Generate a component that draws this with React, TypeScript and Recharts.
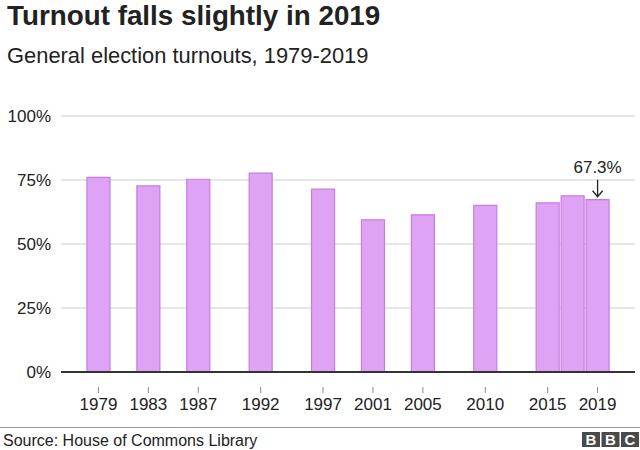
import React from "react";
import { BarChart, Bar, XAxis, YAxis, CartesianGrid } from "recharts";

const years = [1979, 1983, 1987, 1992, 1997, 2001, 2005, 2010, 2015, 2017, 2019];
const turnout = [76.0, 72.7, 75.3, 77.7, 71.4, 59.4, 61.4, 65.1, 66.1, 68.8, 67.3];
const xTicks = [1979, 1983, 1987, 1992, 1997, 2001, 2005, 2010, 2015, 2019];
const yTicks = [0, 25, 50, 75, 100];
const annotatedYear = 2019;

const title = "Turnout falls slightly in 2019";
const subtitle = "General election turnouts, 1979-2019";
const source = "Source: House of Commons Library";

const data = years.map((y, i) => ({ year: y, value: turnout[i] }));

const FONT = "'Liberation Sans', Arial, Helvetica, sans-serif";

const XTick = (props: any) => {
  const { x, y, payload } = props;
  return (
    <g>
      <line x1={x} x2={x} y1={y + 15} y2={y + 21} stroke="#888" strokeWidth={1} />
      <text x={x} y={y + 38} textAnchor="middle" fontSize={17} fill="#222" fontFamily={FONT}>
        {payload.value}
      </text>
    </g>
  );
};

const AnnotationLabel = (props: any) => {
  const { x, y, width, index } = props;
  if (data[index] == null || data[index].year !== annotatedYear) return null;
  const cx = x + width / 2;
  return (
    <g>
      <text x={cx} y={y - 27} textAnchor="middle" fontSize={17} fill="#222" fontFamily={FONT}>
        {`${data[index].value}%`}
      </text>
      <line x1={cx} x2={cx} y1={y - 20} y2={y - 3} stroke="#222" strokeWidth={1.3} />
      <polyline
        points={`${cx - 5},${y - 9} ${cx},${y - 3} ${cx + 5},${y - 9}`}
        fill="none"
        stroke="#222"
        strokeWidth={1.3}
      />
    </g>
  );
};

export default function App() {
  return (
    <div style={{ position: "fixed", left: 0, top: 0, width: 640, height: 450, background: "#fff" }}>
      <BarChart
        width={640}
        height={450}
        data={data}
        margin={{ top: 116, right: 5, bottom: 0, left: 11 }}
      >
        <CartesianGrid vertical={false} stroke="#cccccc" strokeWidth={1} />
        <XAxis
          dataKey="year"
          type="number"
          domain={[1976, 2022]}
          ticks={xTicks}
          tickLine={false}
          tickSize={0}
          tickMargin={0}
          tick={<XTick />}
          axisLine={{ stroke: "#333", strokeWidth: 2 }}
          height={78}
          interval={0}
        />
        <YAxis
          domain={[0, 100]}
          ticks={yTicks}
          tickFormatter={(v: number) => `${v}%`}
          axisLine={false}
          tickLine={false}
          tickSize={0}
          tickMargin={10}
          width={50}
          tick={{ fontSize: 17, fill: "#222", fontFamily: FONT }}
        />
        <Bar
          dataKey="value"
          barSize={23}
          fill="#dfa3f5"
          stroke="#c67ce3"
          strokeWidth={1.2}
          isAnimationActive={false}
          label={<AnnotationLabel />}
        />
      </BarChart>
      <svg
        width={640}
        height={450}
        style={{ position: "absolute", left: 0, top: 0, pointerEvents: "none" }}
      >
        <text x={7} y={25} fontSize={27.8} fontWeight="bold" fill="#222" fontFamily={FONT}>
          {title}
        </text>
        <text x={7} y={63} fontSize={21.9} fill="#222" fontFamily={FONT}>
          {subtitle}
        </text>
        <line x1={0} x2={640} y1={427.5} y2={427.5} stroke="#999" strokeWidth={1} />
        <text x={3} y={446} fontSize={16} fill="#222" fontFamily={FONT}>
          {source}
        </text>
        {["B", "B", "C"].map((ch, i) => (
          <g key={i}>
            <rect x={582 + i * 19.5} y={432} width={18} height={15} fill="#4a4a4a" />
            <text
              x={582 + i * 19.5 + 9}
              y={445}
              textAnchor="middle"
              fontSize={15}
              fontWeight="bold"
              fill="#fff"
              fontFamily={FONT}
            >
              {ch}
            </text>
          </g>
        ))}
      </svg>
    </div>
  );
}
